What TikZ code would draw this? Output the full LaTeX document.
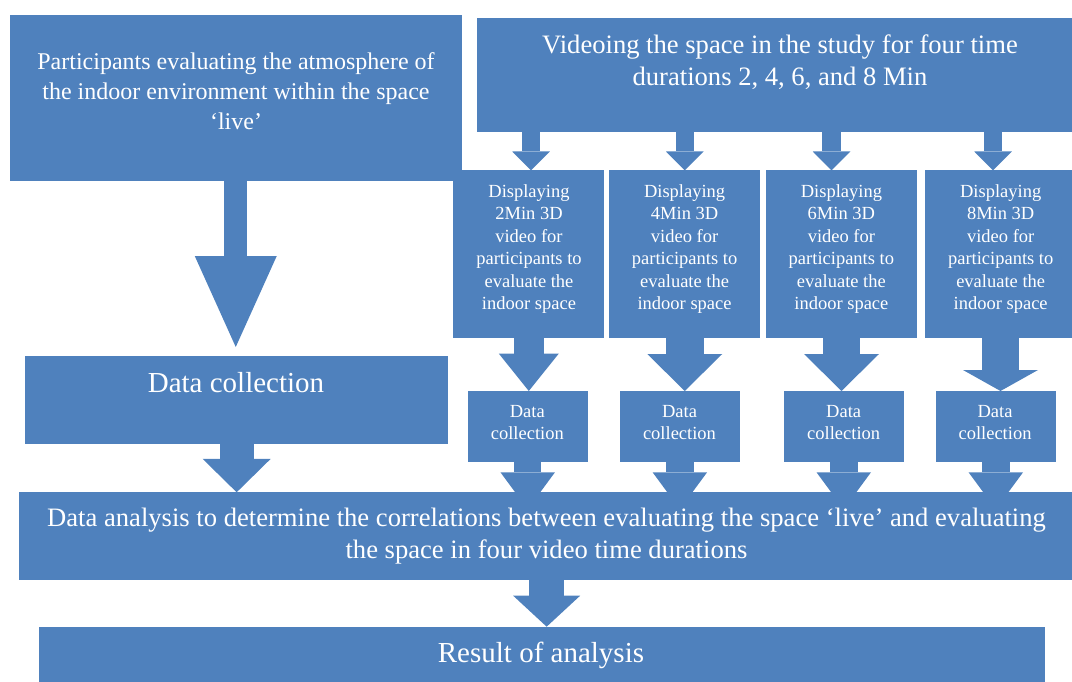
\documentclass[tikz,border=0pt]{standalone}
\usepackage{fontspec}
\setmainfont{Liberation Serif}
\usetikzlibrary{arrows.meta,calc}
\definecolor{boxblue}{RGB}{79,129,189}
\pgfdeclarelayer{bg}
\pgfsetlayers{bg,main}

\begin{document}
\begin{tikzpicture}[x=1pt,y=-1pt,
  box/.style={fill=boxblue,inner sep=0pt,outer sep=0pt},
  txt/.style={text=white,align=center,inner sep=0pt},
  bigtxt/.style={txt,font=\fontsize{24}{30}\selectfont},
  midtxt/.style={txt,font=\fontsize{26.6}{32}\selectfont},
  largetxt/.style={txt,font=\fontsize{29}{34}\selectfont},
  smalltxt/.style={txt,font=\fontsize{18.5}{22.4}\selectfont},
  blk/.style n args={3}{boxblue,line width=#1,-{Triangle[width=#2,length=#3,line width=0pt]}}]
\path[use as bounding box] (0,0) rectangle (1072,682);
\clip (0,0) rectangle (1072,682);
\node[box,minimum width=451.5,minimum height=166.5] (part) at (235.75,98.25) {};
\node[box,minimum width=606,minimum height=113.4] (vid) at (780,75) {};
\node[box,minimum width=151,minimum height=167.5] (d1) at (528.8,254.25) {};
\node[box,minimum width=151,minimum height=167.5] (d2) at (684.75,254.25) {};
\node[box,minimum width=151,minimum height=167.5] (d3) at (841.5,254.25) {};
\node[box,minimum width=151,minimum height=167.5] (d4) at (1000.5,254.25) {};
\node[box,minimum width=423.3,minimum height=88] (dcl) at (236.65,400) {};
\node[box,minimum width=120,minimum height=71] (c1) at (527.7,426.5) {};
\node[box,minimum width=120,minimum height=71] (c2) at (679.85,426.5) {};
\node[box,minimum width=120,minimum height=71] (c3) at (843.75,426.5) {};
\node[box,minimum width=120,minimum height=71] (c4) at (995.8,426.5) {};
\node[box,minimum width=1054.7,minimum height=88] (an) at (546.65,536.3) {};
\node[box,minimum width=1006,minimum height=55.3] (res) at (542,654.35) {};
\begin{pgfonlayer}{bg}
\draw[blk={23}{82}{91},shorten >=9] (part.south) -- (part.south |- dcl.north);
\draw[blk={18.5}{37.5}{19}] ($(vid.south -| d1.north)+(2.2,0)$) -- ($(d1.north)+(2.2,0)$);
\draw[blk={18.5}{37.5}{19}] (vid.south -| d2.north) -- (d2.north);
\draw[blk={18.5}{37.5}{19}] ($(vid.south -| d3.north)+(-10,0)$) -- ($(d3.north)+(-10,0)$);
\draw[blk={18.5}{37.5}{19}] ($(vid.south -| d4.north)+(-7.5,0)$) -- ($(d4.north)+(-7.5,0)$);
\draw[blk={30}{60}{37.4}] (d1.south) -- (d1.south |- c1.north);
\draw[blk={37.5}{75}{37}] (d2.south) -- (d2.south |- c2.north);
\draw[blk={37.5}{75}{37}] (d3.south) -- (d3.south |- c3.north);
\draw[blk={37}{75}{21}] (d4.south) -- (d4.south |- c4.north);
\draw[blk={27.5}{54.5}{37},shorten >=-17] (c1.south) -- (c1.south |- an.north);
\draw[blk={27.5}{54.5}{37},shorten >=-17] (c2.south) -- (c2.south |- an.north);
\draw[blk={27.5}{54.5}{37},shorten >=-17] (c3.south) -- (c3.south |- an.north);
\draw[blk={27.5}{54.5}{37},shorten >=-17] (c4.south) -- (c4.south |- an.north);
\draw[blk={33.7}{68}{33.4}] (dcl.south) -- (dcl.south |- an.north);
\draw[blk={35}{67}{31}] (an.south) -- (an.south |- res.north);
\end{pgfonlayer}
\node[bigtxt] (part-t) at (236,91.5) {Participants evaluating the atmosphere of\\the indoor environment within the space\\‘live’};
\node[midtxt] (vid-t) at (780,62) {Videoing the space in the study for four time\\durations 2, 4, 6, and 8 Min};
\node[smalltxt] (d1-t) at (529,249) {Displaying\\2Min 3D\\video for\\participants to\\evaluate the\\indoor space};
\node[smalltxt] (d2-t) at (684.6,249) {Displaying\\4Min 3D\\video for\\participants to\\evaluate the\\indoor space};
\node[smalltxt] (d3-t) at (841.4,249) {Displaying\\6Min 3D\\video for\\participants to\\evaluate the\\indoor space};
\node[smalltxt] (d4-t) at (1000.7,249) {Displaying\\8Min 3D\\video for\\participants to\\evaluate the\\indoor space};
\node[smalltxt] (c1-t) at (527.3,422.5) {Data\\collection};
\node[smalltxt] (c2-t) at (679.5,422.5) {Data\\collection};
\node[smalltxt] (c3-t) at (843.7,422.5) {Data\\collection};
\node[smalltxt] (c4-t) at (995,422.5) {Data\\collection};
\node[largetxt] (dcl-t) at (236,383) {Data collection};
\node[midtxt] (an-t) at (546.5,536) {Data analysis to determine the correlations between evaluating the space ‘live’ and evaluating\\the space in four video time durations};
\node[largetxt] (res-t) at (541,655) {Result of analysis};
\end{tikzpicture}
\end{document}
